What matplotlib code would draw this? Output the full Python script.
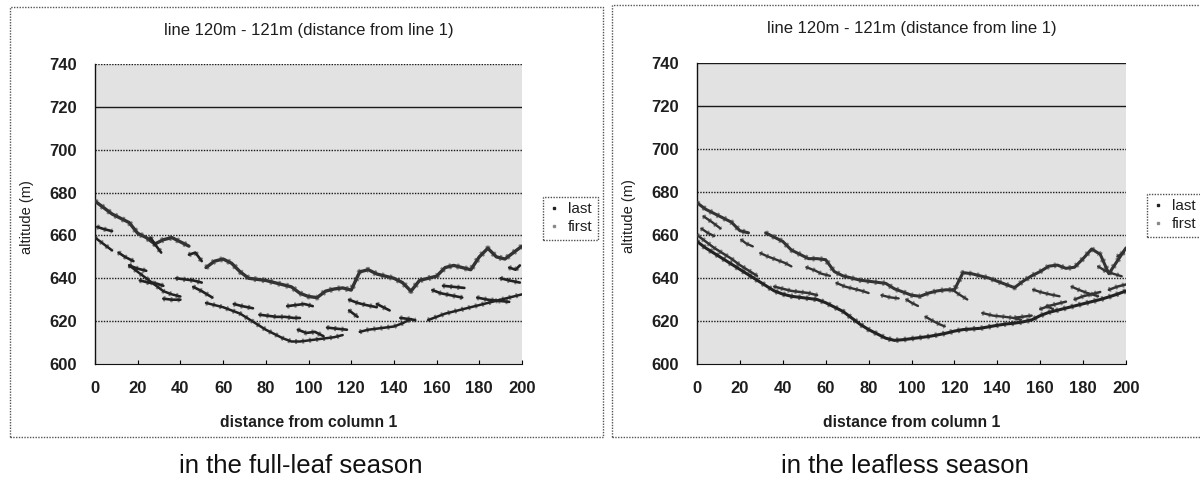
import numpy as np
import matplotlib
matplotlib.use("Agg")
import matplotlib.pyplot as plt
from matplotlib.lines import Line2D
from matplotlib.patches import Rectangle

plt.rcParams["font.family"] = ["Liberation Sans", "DejaVu Sans"]

nan = np.nan

# Profile stations along the line (m from column 1)
station = list(range(0, 201, 4))

# ---------------- full-leaf season ----------------
# canopy surface (first returns)
leaf_first_top = [676, 673, 670, 668, 666, 661, 659, 656, 658, 659,
                  657, 655, nan, 645, 648, 649, 647, 643, 640, 639.5,
                  639, 638, 637, 636, 633, 631.5, 631, 634, 635, 635.5,
                  634.5, 643, 644, 642, 641, 640, 638, 634, 639, 640,
                  641, 645, 646, 645, 644, 650, 654, 650, 649, 652, 655]
# ground (last returns)
leaf_last_ground = [659, 656, 653, nan, 646, 643, 640, 637, 634, 632.5,
                    631.5, nan, nan, 628.5, 627.5, 626.5, 625, 623.5, 621, 618.5,
                    616, 614, 612, 610.5, 610.5, 611, 611.5, 612, 612.5, 613.5,
                    nan, 615, 616, 616.5, 617, 617.5, 619, 621, nan, 620.5,
                    622, 623.5, 624.5, 625.5, 626.5, 627.5, 628.5, 629.5, 630.5, 631.5, 632.5]
# returns from inside the canopy (last returns), clusters separated by nan
leaf_mid_x = [1, 4, 8, nan, 11, 14, 18, nan, 16, 20, 24, nan, 21, 25, 29, 32, nan,
              32, 36, 40, nan, 38, 42, 46, 50, nan, 46, 50, 55, nan, 65, 69, 74, nan,
              77, 81, 85, 89, 93, 96, nan, 90, 94, 98, 102, nan, 95, 99, 103, 107, nan,
              108.7, 113, 118, nan, 119, 123, 127, 132, nan, 119, 121, 123, nan,
              132, 135, 138, nan, 143, 147, 150, nan, 158, 162, 167, 172, nan,
              163, 168, 173, nan, 179, 184, 189, 194, nan, 190, 194, 199, nan,
              194, 197, 199, nan, 26, 28, 31, nan, 44, 47, 50]
leaf_mid_y = [664, 663, 662, nan, 652, 650, 648, nan, 646, 644.5, 643.5, nan, 639, 638, 637.5, 636.5, nan,
              630.5, 630, 630, nan, 640, 639.5, 639, 638, nan, 636, 634, 631, nan, 628, 627, 626, nan,
              623, 622.5, 622, 622, 621.5, 621.5, nan, 627, 627.5, 628, 627, nan, 616, 614.5, 615, 613, nan,
              617, 616.5, 616, nan, 630, 628.5, 627.5, 626.5, nan, 625, 623.5, 622, nan,
              628, 626.5, 625, nan, 621.5, 621, 620.5, nan, 634.5, 633, 632, 631, nan,
              636.5, 636, 635.5, nan, 631, 630, 629.5, 629, nan, 640, 639, 638, nan,
              645, 644, 646, nan, 659, 656, 652, nan, 651, 652, 648]

# ---------------- leafless season ----------------
bare_first_top = [675, 672, 670, 668, 666, 662, 661, nan, 661, 659,
                  657, 653, 651, 649, 649, 648.5, 643, 641, 640, 639,
                  638.5, 638, 637.5, 635, 633.5, 632, 631.5, 633, 634, 634.5,
                  634.5, 642.5, 642, 641, 640, 638.5, 637, 635.5, 638.5, 641,
                  643, 645.5, 646, 644.5, 645, 649, 653.5, 651, 642, 648, 654]
bare_last_ground = [657, 654, 651.5, 649, 646.5, 644, 641.5, 639, 636.5, 634,
                    632.5, 631.5, 631, 630.5, 630, 628.5, 626.5, 624.5, 621.5, 618.5,
                    616, 614, 612, 611, 611.3, 611.8, 612.3, 612.8, 613.5, 614.3,
                    615.3, 616, 616.3, 616.6, 617.3, 618, 618.6, 619, 619.6, 620.5,
                    622.5, 624, 625, 626, 627, 628, 629, 630, 631.2, 632.5, 634]
# returns just above the ground surface
bare_near_x = [0, 4, 8, 12, 16, 20, 24, 28, nan, 36, 40, 44, 48, 52, 56, nan,
               148, 152, 156, nan, 160, 164, 168, 172, nan, 176, 180, 184, 188, nan,
               192, 196, 200]
bare_near_y = [660, 657, 654, 651.5, 649, 646, 643.5, 641, nan, 636, 635, 634, 633.5, 633, 632, nan,
               621.5, 622, 622.5, nan, 625.5, 627, 628, 629, nan, 630, 631.5, 632.5, 633.5, nan,
               634.5, 636, 637]
# returns from branches and understory
bare_mid_x = [3, 7, 11, nan, 2, 5, 8, nan, 20.6, 23, 26, nan, 29.5, 33, 37, 41, 44, nan,
              51, 55, 58, 62, nan, 65, 69, 73, 77, 80, nan, 86, 90, 94, nan, 97.6, 100, 103, nan,
              106.5, 110, 113, 115.5, nan, 119, 122, 126, nan, 133, 138, 143, 147, 151, nan,
              156.7, 160, 164, 169, nan, 163, 166, nan, 174.6, 178, 182, 187, nan,
              187, 190, 194, 198, nan, 196, 199]
bare_mid_y = [668.7, 666, 663, nan, 663, 661, 659.5, nan, 657.8, 656, 654.7, nan, 651.6, 650, 648.5, 647, 645.4, nan,
              645, 643.5, 642, 641, nan, 637.7, 636, 635, 634, 633, nan, 632, 631, 630.5, nan, 630, 628.5, 627, nan,
              622, 620, 618.5, 617.5, nan, 634.6, 632.5, 630, nan, 623.7, 622.5, 622, 621.5, 620.6, nan,
              634.6, 633.5, 632.5, 631.5, nan, 627, 625.5, nan, 636, 634.5, 633, 631.5, nan,
              645.4, 643.5, 642, 640.8, nan, 650, 652]

series_names = ["last", "first"]
titles = ["line 120m - 121m (distance from line 1)"] * 2
captions = ["in the full-leaf season", "in the leafless season"]
y_ticks = [600, 620, 640, 660, 680, 700, 720, 740]
x_ticks = list(range(0, 201, 20))

LAST_C = "#222222"
FIRST_C = "#333333"
TEXT_C = "#1e1e1e"

fig = plt.figure(figsize=(12, 4.86), dpi=100)

ax_rects = [(95 / 1200, 1 - 364 / 486, 427 / 1200, 300 / 486),
            (697 / 1200, 1 - 364 / 486, 429 / 1200, 301 / 486)]
panel_rects = [(10, 7, 603, 437), (612, 5, 1205, 437)]
legend_pos = [(543 / 1200, 1 - 197 / 486), (1147 / 1200, 1 - 194 / 486)]
solid_grid = [[720], [720, 740]]


def draw_band(ax, x, y, color, lw):
    # solid core plus a granular fringe so the band reads as a point cloud
    ax.plot(x, y, color=color, lw=lw, solid_capstyle="round",
            solid_joinstyle="round", zorder=3)
    ax.plot(x, y, color=color, lw=lw + 1.8, ls=(0, (0.4, 1.0)), alpha=0.55,
            zorder=3)


for i in range(2):
    # outer chart frame
    x0, y0, x1, y1 = panel_rects[i]
    fig.patches.append(Rectangle((x0 / 1200, 1 - y1 / 486), (x1 - x0) / 1200,
                                 (y1 - y0) / 486, transform=fig.transFigure,
                                 fill=False, ec="#555555", lw=1.0, ls=(0, (1, 1))))

    ax = fig.add_axes(ax_rects[i])
    ax.set_facecolor("#e2e2e2")
    ax.set_xlim(0, 200)
    ax.set_ylim(600, 740)
    ax.set_xticks(x_ticks)
    ax.set_yticks(y_ticks)
    ax.tick_params(axis="x", direction="in", length=3, width=0.8, pad=12,
                   labelsize=12)
    ax.tick_params(axis="y", length=0, pad=13, labelsize=12)
    for lab in ax.get_xticklabels() + ax.get_yticklabels():
        lab.set_fontweight("bold")
        lab.set_color(TEXT_C)

    for v in y_ticks[1:]:
        if v in solid_grid[i]:
            ax.axhline(v, color="#1a1a1a", lw=1.0, zorder=1)
        else:
            ax.axhline(v, color="#1a1a1a", lw=1.0, ls=(0, (1, 1)), zorder=1)

    for s in ("top", "right"):
        ax.spines[s].set_visible(False)
    ax.spines["left"].set_color("#111111")
    ax.spines["left"].set_linewidth(1.0)
    ax.spines["bottom"].set_linestyle((0, (1, 1)))
    ax.spines["bottom"].set_color("#111111")

    if i == 0:
        draw_band(ax, station, leaf_first_top, FIRST_C, 2.4)
        draw_band(ax, station, leaf_last_ground, LAST_C, 1.8)
        draw_band(ax, leaf_mid_x, leaf_mid_y, LAST_C, 1.9)
    else:
        draw_band(ax, station, bare_first_top, FIRST_C, 2.2)
        draw_band(ax, station, bare_last_ground, LAST_C, 2.2)
        draw_band(ax, bare_near_x, bare_near_y, FIRST_C, 1.8)
        draw_band(ax, bare_mid_x, bare_mid_y, FIRST_C, 1.7)

    ax.text(0.5, 1.113, titles[i], transform=ax.transAxes, ha="center",
            va="center", fontsize=12, color=TEXT_C)
    ax.set_xlabel("distance from column 1", fontsize=11.3, fontweight="bold",
                  color=TEXT_C)
    ax.xaxis.set_label_coords(0.5, -0.17)
    ax.set_ylabel("altitude (m)", fontsize=10.5, color=TEXT_C)
    ax.yaxis.set_label_coords(-0.143, 0.49)

    handles = [Line2D([], [], ls="none", marker="s", ms=1.6, color=LAST_C),
               Line2D([], [], ls="none", marker="s", ms=1.6, color="#8a8a8a")]
    leg = ax.legend(handles, series_names, loc="upper left",
                    bbox_to_anchor=legend_pos[i], bbox_transform=fig.transFigure,
                    fontsize=11, frameon=True, fancybox=False, handlelength=0.8,
                    handletextpad=0.5, borderpad=0.35, labelspacing=0.25,
                    borderaxespad=0)
    leg.get_frame().set_edgecolor("#222222")
    leg.get_frame().set_linestyle((0, (1, 1)))
    leg.get_frame().set_linewidth(1.0)
    for t in leg.get_texts():
        t.set_color(TEXT_C)

    fig.text([301 / 1200, 905 / 1200][i], 1 - 466 / 486, captions[i],
             ha="center", va="center", fontsize=18.5, color="#111111")

fig.savefig("out.png", dpi=100)
